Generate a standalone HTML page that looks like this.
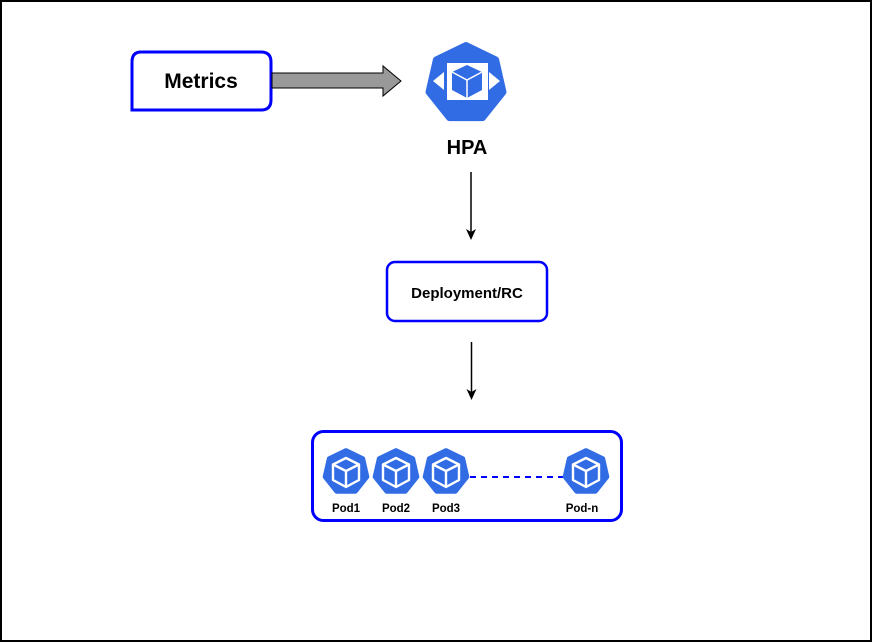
<!DOCTYPE html>
<html><head><meta charset="utf-8"><style>
html,body{margin:0;padding:0;background:#fff;}
svg{display:block;}
text{font-family:"Liberation Sans",Arial,sans-serif;font-weight:bold;fill:#000;}
</style></head><body>
<svg width="873" height="643" viewBox="0 0 873 643" xmlns="http://www.w3.org/2000/svg">
<defs>
  <polygon id="hep" points="0,-1 0.7818,-0.6235 0.9749,0.2225 0.4339,0.9010 -0.4339,0.9010 -0.9749,0.2225 -0.7818,-0.6235" stroke-linejoin="round"/>
  <g id="pod">
    <use href="#hep" transform="scale(21.5)" fill="#326ce5" stroke="#326ce5" stroke-width="0.22"/>
    <g fill="none" stroke="#fff" stroke-width="2.4" stroke-linejoin="round">
      <polygon points="0,-14 13,-7.5 13,8 0,15 -13,8 -13,-7.5"/>
      <polyline points="-13,-7.5 0,-1 13,-7.5"/>
      <line x1="0" y1="-1" x2="0" y2="15"/>
    </g>
  </g>
</defs>
<rect x="1" y="1" width="870" height="640" fill="#fff" stroke="#000" stroke-width="2"/>

<!-- Metrics -->
<path d="M141,52 H261 Q271,52 271,62 V100 Q271,110 261,110 H132 V62 Q132,52 141,52 Z" fill="#fff" stroke="#0000ff" stroke-width="3"/>
<text x="201" y="88" font-size="21" text-anchor="middle">Metrics</text>

<!-- big arrow -->
<polygon points="272,73 383,73 383,66 401,81 383,96 383,88 272,88" fill="#999" stroke="#000" stroke-width="1"/>

<!-- HPA icon -->
<use href="#hep" transform="translate(466,83.5) scale(38)" fill="#326ce5" stroke="#326ce5" stroke-width="0.18"/>
<rect x="447" y="63" width="41" height="37" fill="#fff"/>
<polygon points="467,65 482,72 482,90 467,98 452,90 452,72" fill="#326ce5"/>
<g fill="none" stroke="#fff" stroke-width="1.5">
  <polyline points="452,72 467,80 482,72"/>
  <line x1="467" y1="80" x2="467" y2="98"/>
</g>
<polygon points="433,81 444,72 444,90" fill="#fff"/>
<polygon points="500,81 489,72 489,90" fill="#fff"/>
<text x="467" y="154" font-size="20" text-anchor="middle">HPA</text>

<!-- arrow 1 -->
<line x1="471" y1="172" x2="471" y2="232" stroke="#000" stroke-width="1.5"/>
<polygon points="466,229 471,240 476,229 471,232" fill="#000"/>

<!-- Deployment -->
<rect x="387" y="262" width="160" height="59" rx="8" fill="#fff" stroke="#0000ff" stroke-width="2.5"/>
<text x="467" y="298" font-size="15" text-anchor="middle">Deployment/RC</text>

<!-- arrow 2 -->
<line x1="471.5" y1="342" x2="471.5" y2="392" stroke="#000" stroke-width="1.5"/>
<polygon points="466.5,389 471.5,400 476.5,389 471.5,392" fill="#000"/>

<!-- Pods box -->
<rect x="312.5" y="431.5" width="309" height="89" rx="11" fill="#fff" stroke="#0000ff" stroke-width="3"/>
<line x1="470" y1="477" x2="563" y2="477" stroke="#0000ff" stroke-width="2" stroke-dasharray="6,5"/>
<use href="#pod" x="346" y="472"/>
<use href="#pod" x="396" y="472"/>
<use href="#pod" x="446" y="472"/>
<use href="#pod" x="586" y="472"/>
<g font-size="11.5" text-anchor="middle">
<text x="346" y="512">Pod1</text>
<text x="396" y="512">Pod2</text>
<text x="446" y="512">Pod3</text>
<text x="582" y="512">Pod-n</text>
</g>
</svg>
</body></html>
